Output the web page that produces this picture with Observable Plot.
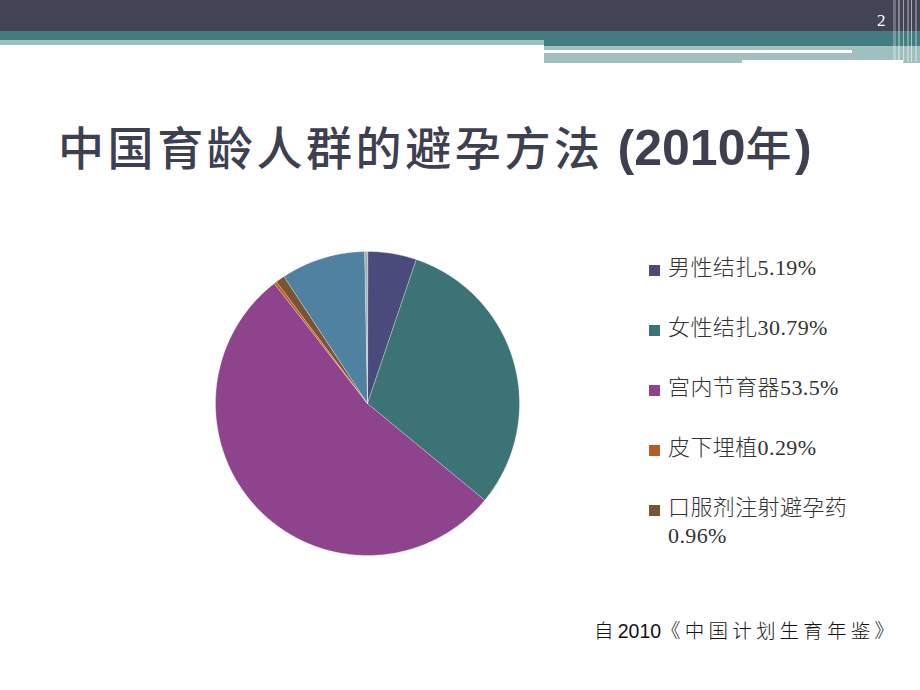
<!DOCTYPE html>
<html>
<head>
<meta charset="utf-8">
<script src="https://cdn.jsdelivr.net/npm/d3@7"></script>
<script src="https://cdn.jsdelivr.net/npm/@observablehq/plot@0.6"></script>
<style>
  html, body { margin: 0; padding: 0; background: #fff; }
  #page { position: relative; width: 920px; height: 690px; overflow: hidden; background: #fff; }
  .band { position: absolute; }
  #title { position: absolute; left: 58px; top: 122px; font-family: "Noto Sans CJK SC", sans-serif; font-weight: 500; font-size: 46px; letter-spacing: 3.6px; color: #3f3f52; white-space: nowrap; line-height: 1; }
  #title .num { font-family: "Liberation Sans Narrow", "Liberation Sans", sans-serif; letter-spacing: 0; font-size: 50px; font-weight: 700; }
  #pageno { position: absolute; left: 877px; top: 11px; font-family: "Liberation Serif", serif; font-size: 17px; color: #fff; }
  #chart { position: absolute; left: 206.5px; top: 242.5px; }
  #legend { position: absolute; left: 649px; top: 254px; width: 250px; }
  .item { position: relative; height: 60px; font-family: "Liberation Serif", "Noto Sans CJK SC", serif; font-weight: 300; font-size: 22px; color: #333; line-height: 28px; }
  .sw { position: absolute; left: 0; top: 11px; width: 11px; height: 11px; }
  .txt { position: absolute; left: 19px; top: 0; width: 218px; letter-spacing: 0.4px; }
  #source { position: absolute; left: 594px; top: 615px; font-family: "Noto Sans CJK SC", sans-serif; font-weight: 300; font-size: 19.5px; color: #111; letter-spacing: 4.2px; white-space: nowrap; }
  #source .num { font-family: "Liberation Sans", sans-serif; letter-spacing: 0; font-weight: 400; }
</style>
</head>
<body>
<div id="page">
  <div class="band" style="left:0;top:0;width:920px;height:31px;background:#434356"></div>
  <div class="band" style="left:0;top:31px;width:920px;height:9px;background:#437d82"></div>
  <div class="band" style="left:0;top:40px;width:544px;height:5px;background:#a2bfc0"></div>
  <div class="band" style="left:544px;top:40px;width:376px;height:6px;background:#437d82"></div>
  <div class="band" style="left:544px;top:46px;width:376px;height:4px;background:#a2bfc0"></div>
  <div class="band" style="left:544px;top:50px;width:308px;height:2.5px;background:#ffffff"></div>
  <div class="band" style="left:852px;top:50px;width:68px;height:2.5px;background:#a2bfc0"></div>
  <div class="band" style="left:544px;top:52.5px;width:376px;height:10px;background:#a2bfc0"></div>
  <div class="band" style="left:742px;top:59.5px;width:161px;height:3px;background:#ffffff"></div>
  <div class="band" style="left:893px;top:0;width:3px;height:62px;background:rgba(255,255,255,0.25)"></div>
  <div class="band" style="left:898px;top:0;width:2px;height:62px;background:rgba(255,255,255,0.35)"></div>
  <div class="band" style="left:903px;top:0;width:1px;height:62px;background:rgba(255,255,255,0.5)"></div>
  <div class="band" style="left:907px;top:0;width:2px;height:62px;background:rgba(255,255,255,0.3)"></div>
  <div class="band" style="left:911px;top:0;width:1px;height:62px;background:rgba(255,255,255,0.55)"></div>
  <div class="band" style="left:915px;top:0;width:2px;height:62px;background:rgba(255,255,255,0.3)"></div>
  <div id="pageno">2</div>
  <div id="title">中国育龄人群的避孕方法 <span class="num">(2010</span>年<span class="num">)</span></div>
  <div id="chart"></div>
  <div id="legend"></div>
  <div id="source">自<span class="num">2010</span>《中国计划生育年鉴》</div>
</div>
<script>
// ---- data ----
const categories = ["男性结扎", "女性结扎", "宫内节育器", "皮下埋植", "口服剂注射避孕药", "避孕套", "其他"];
const values = [5.19, 30.79, 53.5, 0.29, 0.96, 8.97, 0.30];
const colors = ["#4a4a7b", "#3c7374", "#8d448d", "#b85c27", "#7b5232", "#4f81a0", "#a3adb8"];
const legendCount = 5; // only first five appear in the legend

// ---- build slice outlines from d3.pie angles ----
const pie = d3.pie().sort(null).value(d => d.value)(categories.map((c, i) => ({category: c, value: values[i]})));
const pts = [];
pie.forEach(a => {
  const c = a.data.category;
  pts.push({category: c, x: 0, y: 0});
  const n = Math.max(2, Math.ceil((a.endAngle - a.startAngle) / (Math.PI / 360)));
  for (let k = 0; k <= n; k++) {
    const t = a.startAngle + (a.endAngle - a.startAngle) * k / n;
    pts.push({category: c, x: Math.sin(t), y: Math.cos(t)});
  }
});

const size = 320, R = 160 / 152;
const chart = Plot.plot({
  width: size, height: size,
  margin: 0,
  x: {domain: [-R, R], axis: null},
  y: {domain: [-R, R], axis: null},
  color: {domain: categories, range: colors},
  marks: [
    Plot.line(pts, {x: "x", y: "y", z: "category", fill: "category", stroke: "#ffffff", strokeOpacity: 0.45, strokeWidth: 0.7, curve: "linear-closed"})
  ]
});
document.getElementById("chart").appendChild(chart);

// ---- legend ----
const legend = document.getElementById("legend");
categories.slice(0, legendCount).forEach((c, i) => {
  const item = document.createElement("div");
  item.className = "item";
  item.innerHTML = `<div class="sw" style="background:${colors[i]}"></div><div class="txt">${c}${values[i]}%</div>`;
  legend.appendChild(item);
});
</script>
</body>
</html>
